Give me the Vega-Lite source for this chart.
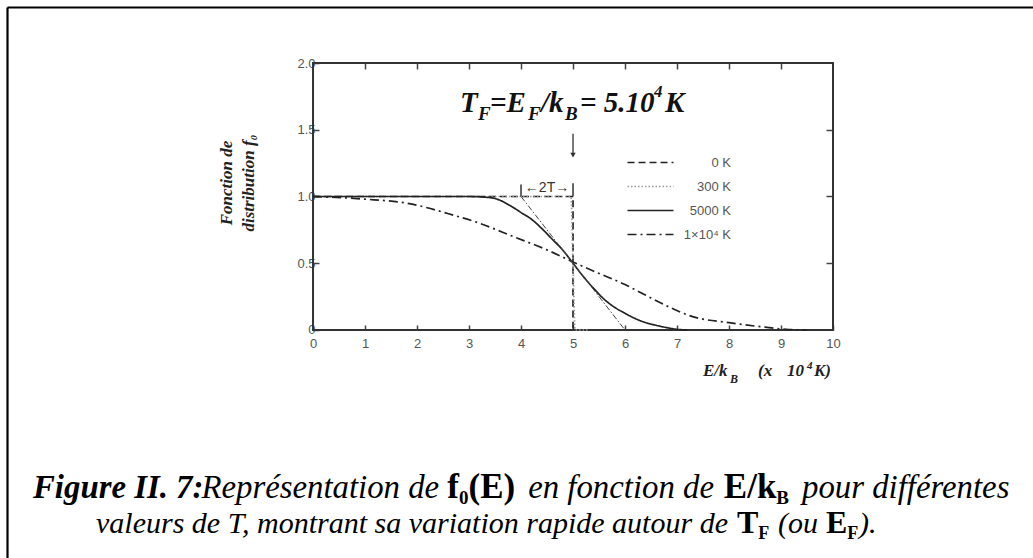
{
  "$schema": "https://vega.github.io/schema/vega-lite/v6.json",
  "width": 1026,
  "height": 551,
  "autosize": {"type": "none"},
  "padding": {"left": 7, "top": 7, "right": 0, "bottom": 0},
  "background": "white",
  "config": {
    "view": {"stroke": null},
    "axis": {"grid": false, "domain": false, "tickColor": "#444", "tickWidth": 1.5, "labelFont": "Liberation Sans", "labelFontSize": 13, "labelColor": "#555"}
  },
  "datasets": {
    "frame": [{"x": 0, "y": 0, "x2": 10, "y2": 2}],
    "corners": [{"x": 0, "y": 0}, {"x": 10, "y": 2}],
    "curves": [
      {"T": "0 K", "i": 0, "x": 0, "y": 1},
      {"T": "0 K", "i": 1, "x": 5, "y": 1},
      {"T": "0 K", "i": 2, "x": 5, "y": 0},
      {"T": "300 K", "i": 0, "x": 0, "y": 1},
      {"T": "300 K", "i": 1, "x": 4.96, "y": 1},
      {"T": "300 K", "i": 2, "x": 5, "y": 0.5},
      {"T": "300 K", "i": 3, "x": 5.04, "y": 0},
      {"T": "300 K", "i": 4, "x": 5.3, "y": 0},
      {"T": "5000 K", "i": 0, "x": 0, "y": 1},
      {"T": "5000 K", "i": 1, "x": 3.0, "y": 1.0},
      {"T": "5000 K", "i": 2, "x": 3.3, "y": 0.995},
      {"T": "5000 K", "i": 3, "x": 3.5, "y": 0.985},
      {"T": "5000 K", "i": 4, "x": 3.8, "y": 0.93},
      {"T": "5000 K", "i": 5, "x": 4.0, "y": 0.88},
      {"T": "5000 K", "i": 6, "x": 4.2, "y": 0.83},
      {"T": "5000 K", "i": 7, "x": 4.4, "y": 0.76},
      {"T": "5000 K", "i": 8, "x": 4.6, "y": 0.68},
      {"T": "5000 K", "i": 9, "x": 4.8, "y": 0.6},
      {"T": "5000 K", "i": 10, "x": 5.0, "y": 0.5},
      {"T": "5000 K", "i": 11, "x": 5.2, "y": 0.4},
      {"T": "5000 K", "i": 12, "x": 5.4, "y": 0.31},
      {"T": "5000 K", "i": 13, "x": 5.6, "y": 0.23},
      {"T": "5000 K", "i": 14, "x": 5.8, "y": 0.17},
      {"T": "5000 K", "i": 15, "x": 6.0, "y": 0.125},
      {"T": "5000 K", "i": 16, "x": 6.2, "y": 0.085},
      {"T": "5000 K", "i": 17, "x": 6.4, "y": 0.055},
      {"T": "5000 K", "i": 18, "x": 6.6, "y": 0.035},
      {"T": "5000 K", "i": 19, "x": 6.8, "y": 0.018},
      {"T": "5000 K", "i": 20, "x": 7.0, "y": 0.005},
      {"T": "5000 K", "i": 21, "x": 7.2, "y": 0},
      {"T": "1×10⁴ K", "i": 0, "x": 0, "y": 1.0},
      {"T": "1×10⁴ K", "i": 1, "x": 1.0, "y": 0.98},
      {"T": "1×10⁴ K", "i": 2, "x": 1.8, "y": 0.95},
      {"T": "1×10⁴ K", "i": 3, "x": 2.7, "y": 0.86},
      {"T": "1×10⁴ K", "i": 4, "x": 3.2, "y": 0.8},
      {"T": "1×10⁴ K", "i": 5, "x": 3.85, "y": 0.7},
      {"T": "1×10⁴ K", "i": 6, "x": 4.5, "y": 0.6},
      {"T": "1×10⁴ K", "i": 7, "x": 5.0, "y": 0.51},
      {"T": "1×10⁴ K", "i": 8, "x": 5.4, "y": 0.44},
      {"T": "1×10⁴ K", "i": 9, "x": 6.0, "y": 0.34},
      {"T": "1×10⁴ K", "i": 10, "x": 6.4, "y": 0.26},
      {"T": "1×10⁴ K", "i": 11, "x": 6.7, "y": 0.2},
      {"T": "1×10⁴ K", "i": 12, "x": 7.3, "y": 0.1},
      {"T": "1×10⁴ K", "i": 13, "x": 8.0, "y": 0.055},
      {"T": "1×10⁴ K", "i": 14, "x": 8.6, "y": 0.025},
      {"T": "1×10⁴ K", "i": 15, "x": 9.1, "y": 0.005},
      {"T": "1×10⁴ K", "i": 16, "x": 9.5, "y": 0}
    ],
    "tangent": [{"x": 4, "y": 1}, {"x": 6, "y": 0}],
    "bars": [{"x": 4, "y": 1.0, "y2": 1.09}, {"x": 5, "y": 1.0, "y2": 1.1}],
    "arrow": [{"x": 5, "y": 1.47, "y2": 1.32}],
    "arrowHead": [{"x": 5, "y": 1.31}],
    "width2T": [{"x": 4.5, "y": 1.065, "text": "←2T→"}],
    "tfMain": [
      {"x": 2.827, "y": 1.633, "text": "T"},
      {"x": 3.404, "y": 1.633, "text": "=E"},
      {"x": 4.385, "y": 1.633, "text": "/k"},
      {"x": 5.135, "y": 1.633, "text": "= 5.10"},
      {"x": 6.769, "y": 1.633, "text": "K"}
    ],
    "tfSub": [
      {"x": 3.173, "y": 1.573, "text": "F"},
      {"x": 4.135, "y": 1.573, "text": "F"},
      {"x": 4.846, "y": 1.573, "text": "B"}
    ],
    "tfSup": [{"x": 6.558, "y": 1.745, "text": "4"}],
    "xTitleMain": [
      {"x": 7.5, "y": -0.345, "text": "E/k"},
      {"x": 8.558, "y": -0.345, "text": "(x"},
      {"x": 9.115, "y": -0.345, "text": "10"},
      {"x": 9.635, "y": -0.345, "text": "K)"}
    ],
    "xTitleSub": [{"x": 8.019, "y": -0.397, "text": "B"}],
    "xTitleSup": [{"x": 9.5, "y": -0.292, "text": "4"}],
    "yTitle": [
      {"x": -1.654, "y": 1.101, "text": "Fonction de"},
      {"x": -1.231, "y": 1.101, "text": "distribution f₀"}
    ],
    "cap1BoldItalic": [{"x": -5.385, "y": -1.258, "text": "Figure II. 7:"}],
    "cap1Italic": [
      {"x": -2.146, "y": -1.258, "text": "Représentation de"},
      {"x": 4.138, "y": -1.258, "text": "en fonction de"},
      {"x": 9.404, "y": -1.258, "text": "pour différentes"}
    ],
    "cap1Bold": [
      {"x": 2.583, "y": -1.258, "text": "f"},
      {"x": 2.99, "y": -1.258, "text": "(E)"},
      {"x": 7.9, "y": -1.258, "text": "E/k"}
    ],
    "cap1Sub": [
      {"x": 2.808, "y": -1.303, "text": "0"},
      {"x": 8.91, "y": -1.303, "text": "B"}
    ],
    "cap2Italic": [
      {"x": -4.173, "y": -1.521, "text": "valeurs de T, montrant sa variation rapide autour de"},
      {"x": 8.942, "y": -1.521, "text": "(ou"},
      {"x": 10.5, "y": -1.521, "text": ")."}
    ],
    "cap2Bold": [
      {"x": 8.154, "y": -1.521, "text": "T"},
      {"x": 9.865, "y": -1.521, "text": "E"}
    ],
    "cap2Sub": [
      {"x": 8.563, "y": -1.566, "text": "F"},
      {"x": 10.275, "y": -1.566, "text": "F"}
    ]
  },
  "encoding": {
    "x": {"field": "x", "type": "quantitative", "scale": {"domain": [-5.885, 13.846], "nice": false, "zero": false}, "axis": null},
    "y": {"field": "y", "type": "quantitative", "scale": {"domain": [-1.708, 2.4195], "nice": false, "zero": false}, "axis": null}
  },
  "layer": [
    {
      "data": {"name": "frame"},
      "mark": {"type": "rect", "filled": false, "color": "#333", "strokeWidth": 2},
      "encoding": {
        "x": {"field": "x", "type": "quantitative", "scale": {"domain": [-5.885, 13.846], "nice": false, "zero": false},
              "axis": {"orient": "bottom", "offset": -228, "values": [0, 1, 2, 3, 4, 5, 6, 7, 8, 9, 10], "tickSize": -5, "labelPadding": 12, "title": null}},
        "x2": {"field": "x2"},
        "y": {"field": "y", "type": "quantitative", "scale": {"domain": [-1.708, 2.4195], "nice": false, "zero": false},
              "axis": {"orient": "left", "offset": -306, "values": [0, 0.5, 1, 1.5, 2], "tickSize": -6, "labelPadding": 4, "title": null,
                       "labelExpr": "datum.value == 0 ? '0' : format(datum.value, '.1f')"}},
        "y2": {"field": "y2"}
      }
    },
    {
      "data": {"name": "corners"},
      "mark": {"type": "point", "opacity": 0},
      "encoding": {
        "x": {"field": "x", "type": "quantitative",
              "axis": {"orient": "top", "offset": -56, "values": [1, 2, 3, 4, 5, 6, 7, 8, 9], "tickSize": -6, "labels": false, "title": null}},
        "y": {"field": "y", "type": "quantitative",
              "axis": {"orient": "right", "offset": -200, "values": [0.5, 1, 1.5], "tickSize": -7, "labels": false, "title": null}}
      }
    },
    {
      "data": {"name": "corners"},
      "mark": {"type": "point", "opacity": 0},
      "encoding": {
        "x": {"field": "x", "type": "quantitative",
              "axis": {"orient": "top", "offset": 0, "domain": true, "domainColor": "#000", "domainWidth": 2.2, "ticks": false, "labels": false, "title": null}},
        "y": {"field": "y", "type": "quantitative",
              "axis": {"orient": "left", "offset": 0, "domain": true, "domainColor": "#000", "domainWidth": 2.2, "ticks": false, "labels": false, "title": null}}
      }
    },
    {
      "data": {"name": "curves"},
      "mark": {"type": "line", "strokeWidth": 1.7, "interpolate": "monotone"},
      "encoding": {
        "order": {"field": "i", "type": "quantitative"},
        "color": {"field": "T", "type": "nominal",
                  "scale": {"domain": ["0 K", "300 K", "5000 K", "1×10⁴ K"], "range": ["#222", "#999", "#222", "#222"]},
                  "legend": {"orient": "none", "legendX": 637, "legendY": 149, "title": null, "padding": 0,
                             "symbolType": "M-4,0H4", "symbolSize": 132, "symbolStrokeWidth": 1.5,
                             "labelAlign": "right", "labelOffset": 74, "labelFont": "Liberation Sans", "labelFontSize": 13,
                             "labelColor": "#555", "rowPadding": 10}},
        "strokeDash": {"field": "T", "type": "nominal",
                       "scale": {"domain": ["0 K", "300 K", "5000 K", "1×10⁴ K"], "range": [[7, 4], [1.5, 2], [1, 0], [9, 4, 2, 4]]},
                       "legend": {"orient": "none", "legendX": 637, "legendY": 149, "title": null, "padding": 0,
                                  "symbolType": "M-4,0H4", "symbolSize": 132, "symbolStrokeWidth": 1.5,
                                  "labelAlign": "right", "labelOffset": 74, "labelFont": "Liberation Sans", "labelFontSize": 13,
                                  "labelColor": "#555", "rowPadding": 10}}
      }
    },
    {
      "data": {"name": "tangent"},
      "mark": {"type": "line", "color": "#444", "strokeWidth": 1, "strokeDash": [6, 2, 1.5, 2]},
      "encoding": {}
    },
    {
      "data": {"name": "bars"},
      "mark": {"type": "rule", "color": "#333", "strokeWidth": 1.5},
      "encoding": {"y2": {"field": "y2"}}
    },
    {
      "data": {"name": "arrow"},
      "mark": {"type": "rule", "color": "#333", "strokeWidth": 1.3},
      "encoding": {"y2": {"field": "y2"}}
    },
    {
      "data": {"name": "arrowHead"},
      "mark": {"type": "point", "shape": "triangle-down", "filled": true, "color": "#333", "size": 30, "opacity": 1},
      "encoding": {}
    },
    {
      "data": {"name": "width2T"},
      "mark": {"type": "text", "font": "Liberation Sans", "fontSize": 14, "color": "#333", "align": "center", "baseline": "middle"},
      "encoding": {"text": {"field": "text"}}
    },
    {
      "data": {"name": "tfMain"},
      "mark": {"type": "text", "font": "Liberation Serif", "fontStyle": "italic", "fontWeight": "bold", "fontSize": 29, "color": "#111", "align": "left", "baseline": "alphabetic"},
      "encoding": {"text": {"field": "text"}}
    },
    {
      "data": {"name": "tfSub"},
      "mark": {"type": "text", "font": "Liberation Serif", "fontStyle": "italic", "fontWeight": "bold", "fontSize": 19, "color": "#111", "align": "left", "baseline": "alphabetic"},
      "encoding": {"text": {"field": "text"}}
    },
    {
      "data": {"name": "tfSup"},
      "mark": {"type": "text", "font": "Liberation Serif", "fontStyle": "italic", "fontWeight": "bold", "fontSize": 17, "color": "#111", "align": "left", "baseline": "alphabetic"},
      "encoding": {"text": {"field": "text"}}
    },
    {
      "data": {"name": "xTitleMain"},
      "mark": {"type": "text", "font": "Liberation Serif", "fontStyle": "italic", "fontWeight": "bold", "fontSize": 17, "color": "#222", "align": "left", "baseline": "alphabetic"},
      "encoding": {"text": {"field": "text"}}
    },
    {
      "data": {"name": "xTitleSub"},
      "mark": {"type": "text", "font": "Liberation Serif", "fontStyle": "italic", "fontWeight": "bold", "fontSize": 12, "color": "#222", "align": "left", "baseline": "alphabetic"},
      "encoding": {"text": {"field": "text"}}
    },
    {
      "data": {"name": "xTitleSup"},
      "mark": {"type": "text", "font": "Liberation Serif", "fontStyle": "italic", "fontWeight": "bold", "fontSize": 11, "color": "#222", "align": "left", "baseline": "alphabetic"},
      "encoding": {"text": {"field": "text"}}
    },
    {
      "data": {"name": "yTitle"},
      "mark": {"type": "text", "font": "Liberation Serif", "fontStyle": "italic", "fontWeight": "bold", "fontSize": 17, "color": "#222", "align": "center", "baseline": "middle", "angle": 270},
      "encoding": {"text": {"field": "text"}}
    },
    {
      "data": {"name": "cap1BoldItalic"},
      "mark": {"type": "text", "font": "Liberation Serif", "fontStyle": "italic", "fontWeight": "bold", "fontSize": 32.8, "color": "#000", "align": "left", "baseline": "alphabetic"},
      "encoding": {"text": {"field": "text"}}
    },
    {
      "data": {"name": "cap1Italic"},
      "mark": {"type": "text", "font": "Liberation Serif", "fontStyle": "italic", "fontSize": 32.8, "color": "#000", "align": "left", "baseline": "alphabetic"},
      "encoding": {"text": {"field": "text"}}
    },
    {
      "data": {"name": "cap1Bold"},
      "mark": {"type": "text", "font": "Liberation Serif", "fontWeight": "bold", "fontSize": 35, "color": "#000", "align": "left", "baseline": "alphabetic"},
      "encoding": {"text": {"field": "text"}}
    },
    {
      "data": {"name": "cap1Sub"},
      "mark": {"type": "text", "font": "Liberation Serif", "fontWeight": "bold", "fontSize": 19, "color": "#000", "align": "left", "baseline": "alphabetic"},
      "encoding": {"text": {"field": "text"}}
    },
    {
      "data": {"name": "cap2Italic"},
      "mark": {"type": "text", "font": "Liberation Serif", "fontStyle": "italic", "fontSize": 30, "color": "#000", "align": "left", "baseline": "alphabetic"},
      "encoding": {"text": {"field": "text"}}
    },
    {
      "data": {"name": "cap2Bold"},
      "mark": {"type": "text", "font": "Liberation Serif", "fontWeight": "bold", "fontSize": 32, "color": "#000", "align": "left", "baseline": "alphabetic"},
      "encoding": {"text": {"field": "text"}}
    },
    {
      "data": {"name": "cap2Sub"},
      "mark": {"type": "text", "font": "Liberation Serif", "fontWeight": "bold", "fontSize": 18, "color": "#000", "align": "left", "baseline": "alphabetic"},
      "encoding": {"text": {"field": "text"}}
    }
  ],
  "resolve": {"axis": {"x": "independent", "y": "independent"}}
}
